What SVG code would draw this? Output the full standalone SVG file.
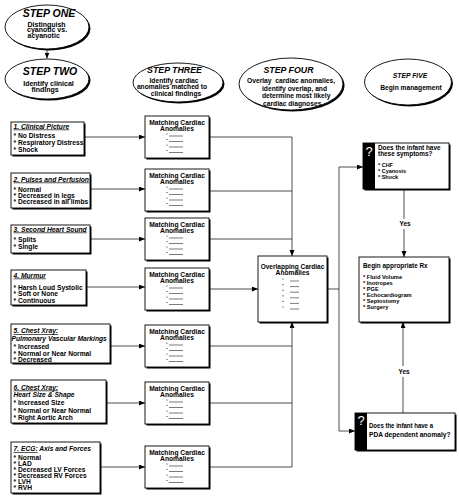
<svg xmlns="http://www.w3.org/2000/svg" width="459" height="500" viewBox="0 0 459 500">
<defs>
<style>
.t{font-family:"Liberation Sans",Arial,Helvetica,sans-serif;font-weight:bold;font-size:6.7px;fill:#000}
.u{font-style:italic;text-decoration:underline}
.i{font-style:italic}
.m{text-anchor:middle}
.s10{font-size:10.5px;font-style:italic}
.s9{font-size:8.8px;font-style:italic}
.s7i{font-size:6.8px;font-style:italic}
.e7{font-size:7px}
.q6{font-size:6.4px}
.q5{font-size:5.5px}
.r5{font-size:5.7px}
.box{fill:#fff;stroke:#000;stroke-width:0.9}
.sh{fill:#000}
.cn{fill:none;stroke:#222;stroke-width:0.8}
.bl{stroke:#444;stroke-width:0.7}
.dt{fill:#222}
.q{font-family:"Liberation Sans",Arial,sans-serif;font-size:13px;fill:#fff;text-anchor:middle}
</style>
<marker id="ah" markerUnits="userSpaceOnUse" markerWidth="7" markerHeight="6" refX="6" refY="2.5" orient="auto" viewBox="0 0 7 6"><path d="M0,0 L6,2.5 L0,5 Z" fill="#000"/></marker>
<g id="b4">
<circle class="dt" cx="22" cy="18" r="0.6"/><line class="bl" x1="24" y1="20" x2="38" y2="20"/>
<circle class="dt" cx="22" cy="23.5" r="0.6"/><line class="bl" x1="24" y1="25.5" x2="38" y2="25.5"/>
<circle class="dt" cx="22" cy="29" r="0.6"/><line class="bl" x1="24" y1="31" x2="38" y2="31" stroke="#888"/>
<circle class="dt" cx="22" cy="34.5" r="0.6"/><line class="bl" x1="24" y1="36.5" x2="38" y2="36.5"/>
</g>
</defs>
<rect width="459" height="500" fill="#fff"/>

<g id="connectors">
<path class="cn" d="M47,49.5 V58.5" marker-end="url(#ah)"/>
<path class="cn" d="M84,137 H145" marker-end="url(#ah)"/>
<path class="cn" d="M90,189 H145" marker-end="url(#ah)"/>
<path class="cn" d="M90,239 H145" marker-end="url(#ah)"/>
<path class="cn" d="M86,287 H145" marker-end="url(#ah)"/>
<path class="cn" d="M110,346 H145" marker-end="url(#ah)"/>
<path class="cn" d="M106,403 H145" marker-end="url(#ah)"/>
<path class="cn" d="M100,467 H145" marker-end="url(#ah)"/>
<path class="cn" d="M209,137 H292 V256" marker-end="url(#ah)"/>
<path class="cn" d="M209,191 H292"/>
<path class="cn" d="M209,239 H292"/>
<path class="cn" d="M209,289 H258" marker-end="url(#ah)"/>
<path class="cn" d="M209,346 H292"/>
<path class="cn" d="M209,403 H292"/>
<path class="cn" d="M209,467 H292 V322" marker-end="url(#ah)"/>
<path class="cn" d="M327,289 H339"/>
<path class="cn" d="M339,167 V431"/>
<path class="cn" d="M339,167 H363" marker-end="url(#ah)"/>
<path class="cn" d="M339,431 H355" marker-end="url(#ah)"/>
<path class="cn" d="M404,189 V219"/>
<path class="cn" d="M404,229 V257" marker-end="url(#ah)"/>
<text class="t m q6" x="405" y="226">Yes</text>
<path class="cn" d="M403,413 V377"/>
<path class="cn" d="M403,366 V322" marker-end="url(#ah)"/>
<text class="t m q6" x="404" y="373.5">Yes</text>
</g>

<g id="step1">
<ellipse class="sh" cx="48.5" cy="28.5" rx="42" ry="22"/>
<ellipse class="box" cx="47" cy="27" rx="42" ry="22"/>
<text class="t m s10" x="49" y="16.7">STEP ONE</text>
<text class="t e7" x="27.5" y="26.7">Distinguish</text>
<text class="t e7" x="27" y="32.3">cyanotic vs.</text>
<text class="t e7" x="27.5" y="37.9">acyanotic</text>
</g>

<g id="step2">
<ellipse class="sh" cx="48.5" cy="80.5" rx="42" ry="20"/>
<ellipse class="box" cx="47" cy="79" rx="42" ry="20"/>
<text class="t m s10" x="50" y="75.3">STEP TWO</text>
<text class="t m e7" x="48.5" y="86">Identify clinical</text>
<text class="t m e7" x="45" y="92.4">findings</text>
</g>

<g id="step3">
<ellipse class="sh" cx="179.5" cy="84" rx="45" ry="19.5"/>
<ellipse class="box" cx="178" cy="82.5" rx="45" ry="19.5"/>
<text class="t m s9" x="174.5" y="73.3">STEP THREE</text>
<text class="t m" x="174" y="82.7">Identify cardiac</text>
<text class="t m" x="172" y="89.3">anomalies matched to</text>
<text class="t m" x="176" y="96">clinical findings</text>
</g>

<g id="step4">
<ellipse class="sh" cx="292.5" cy="85.5" rx="52" ry="26"/>
<ellipse class="box" cx="291" cy="84" rx="52" ry="26"/>
<text class="t m s9" x="288.5" y="73.3">STEP FOUR</text>
<text class="t" x="247" y="83.3" xml:space="preserve">Overlay  cardiac anomalies,</text>
<text class="t" x="262" y="90.7">identify overlap, and</text>
<text class="t" x="262" y="98.3">determine most likely</text>
<text class="t" x="263" y="105.7">cardiac diagnoses</text>
</g>

<g id="step5">
<ellipse class="sh" cx="409.5" cy="83.5" rx="43.5" ry="23"/>
<ellipse class="box" cx="408" cy="82" rx="43.5" ry="23"/>
<text class="t m s7i" x="410" y="78.3">STEP FIVE</text>
<text class="t m" x="411" y="90">Begin management</text>
</g>

<g id="f1">
<rect class="sh" x="12.5" y="123.5" width="73" height="33"/>
<rect class="box" x="11" y="122" width="73" height="33"/>
<text class="t u" x="13.5" y="128.5">1. Clinical Picture</text>
<text class="t" x="13.5" y="137.5">* No Distress</text>
<text class="t" x="13.5" y="144.5">* Respiratory Distress</text>
<text class="t" x="13.5" y="151.5">* Shock</text>
</g>

<g id="f2">
<rect class="sh" x="12.5" y="174.5" width="79" height="35"/>
<rect class="box" x="11" y="173" width="79" height="35"/>
<text class="t u" x="13.5" y="181.5">2. Pulses and Perfusion</text>
<text class="t" x="13.5" y="191.5">* Normal</text>
<text class="t" x="13.5" y="197.8">* Decreased in legs</text>
<text class="t" x="13.5" y="204.3">* Decreased in all limbs</text>
</g>

<g id="f3">
<rect class="sh" x="12.5" y="226.5" width="79" height="28"/>
<rect class="box" x="11" y="225" width="79" height="28"/>
<text class="t u" x="13.5" y="231.5">3. Second Heart Sound</text>
<text class="t" x="13.5" y="242">* Splits</text>
<text class="t" x="13.5" y="248.5">* Single</text>
</g>

<g id="f4">
<rect class="sh" x="12.5" y="271.5" width="75" height="35"/>
<rect class="box" x="11" y="270" width="75" height="35"/>
<text class="t u" x="13.5" y="277.5">4. Murmur</text>
<text class="t" x="13.5" y="289.5">* Harsh Loud Systolic</text>
<text class="t" x="13.5" y="296">* Soft or None</text>
<text class="t" x="13.5" y="302.5">* Continuous</text>
</g>

<g id="f5">
<rect class="sh" x="12.5" y="325.5" width="99" height="39"/>
<rect class="box" x="11" y="324" width="99" height="39"/>
<text class="t u" x="13.5" y="333">5. Chest Xray:</text>
<text class="t i" x="11.5" y="341">Pulmonary Vascular Markings</text>
<text class="t" x="13.5" y="349">* Increased</text>
<text class="t" x="13.5" y="355.5">* Normal or Near Normal</text>
<text class="t" x="13.5" y="361.5">* Decreased</text>
</g>

<g id="f6">
<rect class="sh" x="12.5" y="381.5" width="95" height="43"/>
<rect class="box" x="11" y="380" width="95" height="43"/>
<text class="t u" x="13.5" y="389.5">6. Chest Xray:</text>
<text class="t i" x="13.5" y="396.5">Heart Size &amp; Shape</text>
<text class="t" x="13.5" y="405">* Increased Size</text>
<text class="t" x="13.5" y="412.5">* Normal or Near Normal</text>
<text class="t" x="13.5" y="420">* Right Aortic Arch</text>
</g>

<g id="f7">
<rect class="sh" x="12.5" y="443.5" width="89" height="51"/>
<rect class="box" x="11" y="442" width="89" height="51"/>
<text class="t i" x="13.5" y="451"><tspan style="text-decoration:underline">7. ECG:</tspan> Axis and Forces</text>
<text class="t" x="13.5" y="459.5">* Normal</text>
<text class="t" x="13.5" y="465.6">* LAD</text>
<text class="t" x="13.5" y="471.8">* Decreased LV Forces</text>
<text class="t" x="13.5" y="478">* Decreased RV Forces</text>
<text class="t" x="13.5" y="484.2">* LVH</text>
<text class="t" x="13.5" y="490.4">* RVH</text>
</g>

<g id="m1">
<rect class="sh" x="146.5" y="117.5" width="64" height="42"/>
<rect class="box" x="145" y="116" width="64" height="42"/>
<text class="t m" x="177" y="125">Matching Cardiac</text>
<text class="t m" x="177" y="131">Anomalies</text>
<use href="#b4" x="145" y="116"/>
</g>
<g id="m2">
<rect class="sh" x="146.5" y="170.5" width="64" height="42"/>
<rect class="box" x="145" y="169" width="64" height="42"/>
<text class="t m" x="177" y="178">Matching Cardiac</text>
<text class="t m" x="177" y="184">Anomalies</text>
<use href="#b4" x="145" y="169"/>
</g>
<g id="m3">
<rect class="sh" x="146.5" y="219.5" width="64" height="42"/>
<rect class="box" x="145" y="218" width="64" height="42"/>
<text class="t m" x="177" y="227">Matching Cardiac</text>
<text class="t m" x="177" y="233">Anomalies</text>
<use href="#b4" x="145" y="218"/>
</g>
<g id="m4">
<rect class="sh" x="146.5" y="269.5" width="64" height="42"/>
<rect class="box" x="145" y="268" width="64" height="42"/>
<text class="t m" x="177" y="277">Matching Cardiac</text>
<text class="t m" x="177" y="283">Anomalies</text>
<use href="#b4" x="145" y="268"/>
</g>
<g id="m5">
<rect class="sh" x="146.5" y="326.5" width="64" height="42"/>
<rect class="box" x="145" y="325" width="64" height="42"/>
<text class="t m" x="177" y="334">Matching Cardiac</text>
<text class="t m" x="177" y="340">Anomalies</text>
<use href="#b4" x="145" y="325"/>
</g>
<g id="m6">
<rect class="sh" x="146.5" y="383.5" width="64" height="42"/>
<rect class="box" x="145" y="382" width="64" height="42"/>
<text class="t m" x="177" y="391">Matching Cardiac</text>
<text class="t m" x="177" y="397">Anomalies</text>
<use href="#b4" x="145" y="382"/>
</g>
<g id="m7">
<rect class="sh" x="146.5" y="447.5" width="64" height="42"/>
<rect class="box" x="145" y="446" width="64" height="42"/>
<text class="t m" x="177" y="455">Matching Cardiac</text>
<text class="t m" x="177" y="461">Anomalies</text>
<use href="#b4" x="145" y="446"/>
</g>

<g id="overlap">
<rect class="sh" x="259.5" y="257.5" width="69" height="66"/>
<rect class="box" x="258" y="256" width="69" height="66"/>
<text class="t m" x="292.5" y="269" style="font-size:6.5px">Overlapping Cardiac</text>
<text class="t m" x="292.5" y="275">Anomalies</text>
<circle class="dt" cx="283" cy="279" r="0.6"/><line class="bl" x1="290" y1="281" x2="299" y2="281"/>
<circle class="dt" cx="283" cy="284.6" r="0.6"/><line class="bl" x1="290" y1="286.6" x2="299" y2="286.6" stroke="#888"/>
<circle class="dt" cx="283" cy="290.2" r="0.6"/><line class="bl" x1="290" y1="292.2" x2="299" y2="292.2"/>
<circle class="dt" cx="283" cy="295.8" r="0.6"/><line class="bl" x1="290" y1="297.8" x2="299" y2="297.8"/>
<circle class="dt" cx="283" cy="301.4" r="0.6"/><line class="bl" x1="290" y1="303.4" x2="299" y2="303.4" stroke="#888"/>
<circle class="dt" cx="283" cy="307" r="0.6"/><line class="bl" x1="290" y1="309" x2="299" y2="309"/>
</g>

<g id="q1">
<rect class="sh" x="364.5" y="144.5" width="86" height="46"/>
<rect class="box" x="363" y="143" width="86" height="46"/>
<rect x="363" y="143" width="12" height="46" fill="#000"/>
<text class="q" x="369" y="156">?</text>
<text class="t q6" x="378" y="150">Does the infant have</text>
<text class="t q6" x="378" y="156">these symptoms?</text>
<text class="t q5" x="378" y="167">* CHF</text>
<text class="t q5" x="378" y="173">* Cyanosis</text>
<text class="t q5" x="378" y="179">* Shock</text>
</g>

<g id="rx">
<rect class="sh" x="360.5" y="258.5" width="90" height="65"/>
<rect class="box" x="359" y="257" width="90" height="65"/>
<text class="t q6" x="363" y="268">Begin appropriate Rx</text>
<text class="t r5" x="363" y="279">* Fluid Volume</text>
<text class="t r5" x="363" y="284.9">* Inotropes</text>
<text class="t r5" x="363" y="290.8">* PGE</text>
<text class="t r5" x="363" y="296.7">* Echocardiogram</text>
<text class="t r5" x="363" y="302.6">* Septostomy</text>
<text class="t r5" x="363" y="308.5">* Surgery</text>
</g>

<g id="q2">
<rect class="sh" x="356.5" y="414.5" width="100" height="37"/>
<rect class="box" x="355" y="413" width="100" height="37"/>
<rect x="355" y="413" width="12" height="37" fill="#000"/>
<text class="q" x="361" y="425">?</text>
<text class="t" x="369" y="428" style="font-size:6.6px" textLength="64" lengthAdjust="spacingAndGlyphs">Does the infant have a</text>
<text class="t" x="369" y="437" style="font-size:6.6px">PDA dependent anomaly?</text>
</g>
</svg>
